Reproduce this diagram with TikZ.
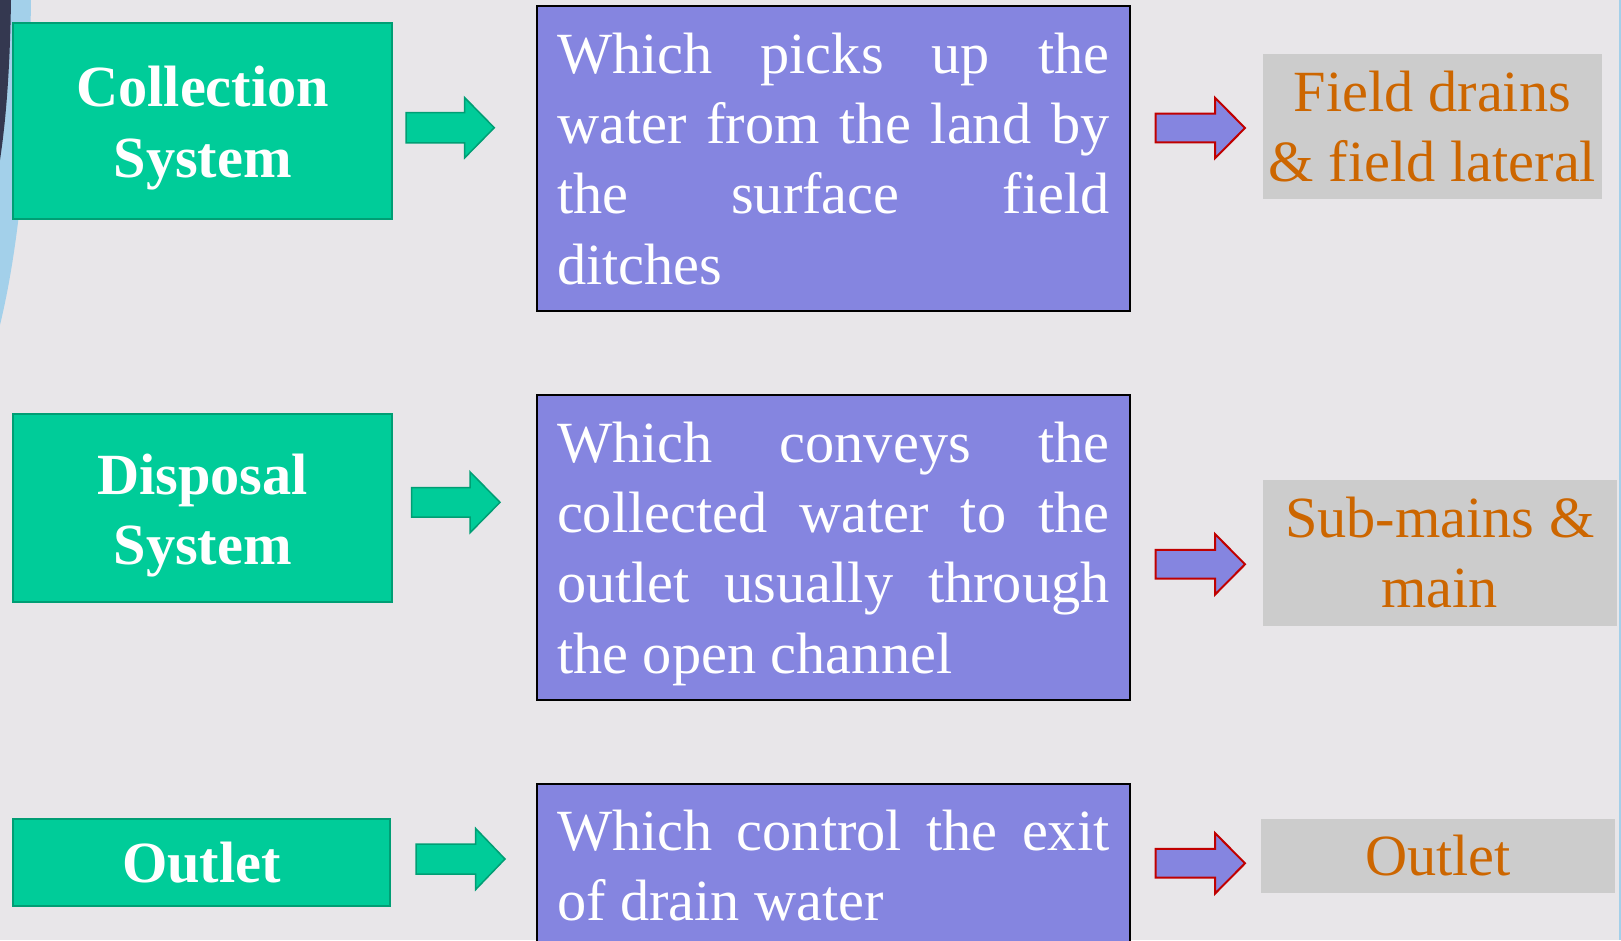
\documentclass[tikz,border=0pt]{standalone}
\usepackage{fontspec}
\setmainfont{Liberation Serif}
\usetikzlibrary{positioning}

\definecolor{bgcol}{HTML}{E8E6E9}
\definecolor{sysgreen}{HTML}{00CC99}
\definecolor{sysgreenline}{HTML}{009E74}
\definecolor{descpurple}{HTML}{8585E0}
\definecolor{partgray}{HTML}{CCCCCC}
\definecolor{partorange}{HTML}{CC6600}
\definecolor{arrowred}{HTML}{C00000}
\definecolor{edgenavy}{HTML}{343850}
\definecolor{edgeblue}{HTML}{A3D0EA}

\tikzset{
  sysbox/.style={draw=sysgreenline, line width=0.02cm, fill=sysgreen, text=white,
    font=\fontsize{16.6}{20}\selectfont\bfseries, align=center, inner sep=0pt},
  descbox/.style={draw=black, line width=0.02cm, fill=descpurple, text=white,
    font=\fontsize{16.6}{20}\selectfont, anchor=north west, text width=5.525cm,
    align=justify, inner xsep=0.205cm, inner ysep=0.265cm},
  partbox/.style={fill=partgray, text=partorange, inner sep=0pt,
    font=\fontsize{16.6}{20}\selectfont, align=center},
  garrow/.style={fill=sysgreen, draw=sysgreenline, line width=0.015cm},
  parrow/.style={fill=descpurple, draw=arrowred, line width=0.02cm},
}

\begin{document}
\begin{tikzpicture}
    \useasboundingbox (0,0) rectangle (16.21,-9.40);
    \fill[bgcol] (0,0) rectangle (16.21,-9.40);

    % edges of the slide
    \fill[edgeblue] (0,0) -- (0.31,0) .. controls (0.29,-1.5) and (0.18,-2.5) .. (0,-3.25) -- cycle;
    \fill[edgenavy] (0,0) -- (0.11,0) .. controls (0.10,-0.7) and (0.06,-1.2) .. (0,-1.6) -- cycle;
    \fill[edgeblue] (16.19,0) rectangle (16.21,-9.40);

    % the three parts
    \node[sysbox, text height=1.26cm, minimum width=3.786cm, minimum height=1.96cm] (colbox) at (2.027,-1.205) {Collection\\System};
    \node[sysbox, text height=1.26cm, minimum width=3.786cm, minimum height=1.882cm] (disbox) at (2.027,-5.076) {Disposal\\System};
    \node[sysbox, minimum width=3.763cm, minimum height=0.868cm] (outbox) at (2.015,-8.622) {Outlet};

    % what each part does
    \node[descbox, text depth=60pt, minimum height=3.04cm] (coldesc) at (5.355,-0.052)
      {Which picks up the\linebreak water from the land by\linebreak the surface field\linebreak ditches};
    \node[descbox, text depth=60pt, minimum height=3.05cm] (disdesc) at (5.355,-3.939)
      {Which conveys the\linebreak collected water to the\linebreak outlet usually through\linebreak the open channel};
    \node[descbox] (outdesc) at (5.355,-7.826)
      {Which control the exit\linebreak of drain water};

    % the drains
    \node[partbox, minimum width=3.39cm, minimum height=1.453cm] (colpart) at (14.325,-1.267) {Field drains\\\& field lateral};
    \node[partbox, minimum width=3.537cm, minimum height=1.457cm] (dispart) at (14.398,-5.528) {Sub-mains \&\\main};
    \node[partbox, minimum width=3.54cm, minimum height=0.737cm] (outpart) at (14.38,-8.558) {Outlet};

    % green arrows
    \draw[garrow] (4.06,-1.277) ++(0,0.152) -- ++(0.586,0) -- ++(0,0.15) -- ++(0.297,-0.302) -- ++(-0.297,-0.302) -- ++(0,0.15) -- ++(-0.586,0) -- cycle;
    \draw[garrow] (4.117,-5.023) ++(0,0.148) -- ++(0.583,0) -- ++(0,0.157) -- ++(0.30,-0.305) -- ++(-0.30,-0.305) -- ++(0,0.157) -- ++(-0.583,0) -- cycle;
    \draw[garrow] (4.16,-8.59) ++(0,0.15) -- ++(0.597,0) -- ++(0,0.155) -- ++(0.293,-0.305) -- ++(-0.293,-0.305) -- ++(0,0.155) -- ++(-0.597,0) -- cycle;

    % red arrows
    \draw[parrow] (11.557,-1.28) ++(0,0.144) -- ++(0.593,0) -- ++(0,0.159) -- ++(0.30,-0.303) -- ++(-0.30,-0.303) -- ++(0,0.159) -- ++(-0.593,0) -- cycle;
    \draw[parrow] (11.557,-5.643) ++(0,0.144) -- ++(0.593,0) -- ++(0,0.159) -- ++(0.30,-0.303) -- ++(-0.30,-0.303) -- ++(0,0.159) -- ++(-0.593,0) -- cycle;
    \draw[parrow] (11.557,-8.633) ++(0,0.144) -- ++(0.593,0) -- ++(0,0.159) -- ++(0.30,-0.303) -- ++(-0.30,-0.303) -- ++(0,0.159) -- ++(-0.593,0) -- cycle;
\end{tikzpicture}
\end{document}
